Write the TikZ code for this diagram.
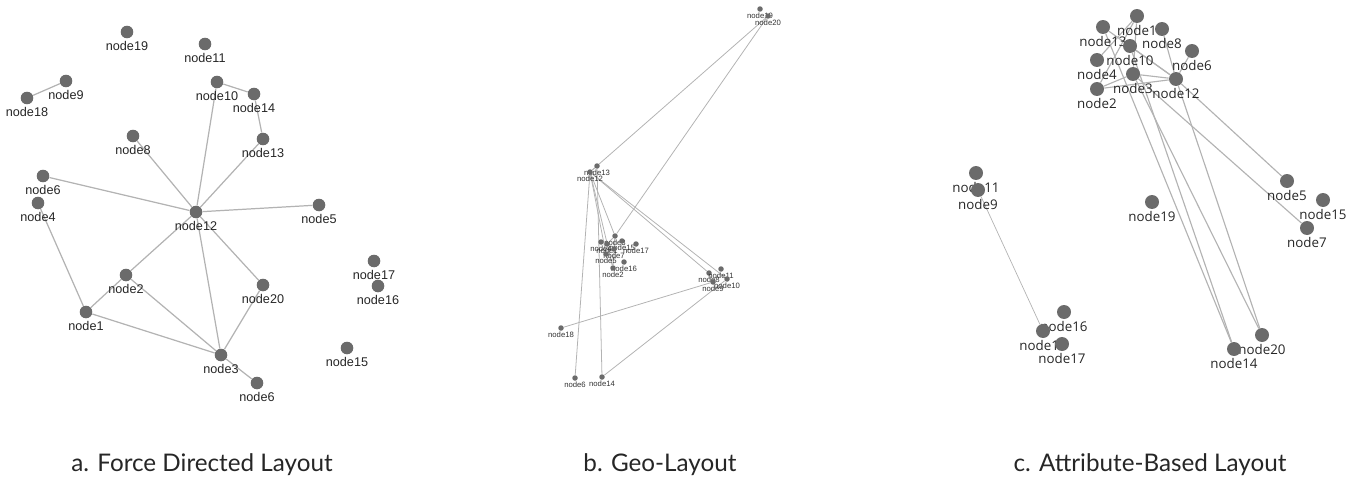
\documentclass[tikz,border=0pt]{standalone}
\usepackage{fontspec}
\newfontfamily\helv{Liberation Sans}
\newfontfamily\opsans{Open Sans}
\newfontfamily\lato{Lato}
\definecolor{dotgray}{HTML}{6B6B6B}
\definecolor{edgegray}{HTML}{B3B3B3}
\pgfdeclarelayer{bg}
\pgfsetlayers{bg,main}

\begin{document}
\begin{tikzpicture}[x=0.02cm,y=-0.02cm,
 dotA/.style={circle,fill=dotgray,inner sep=0pt,minimum size=0.252cm,
  label={[font=\helv\fontsize{7.2}{8}\selectfont,inner sep=0pt,label distance=0.04cm,text=black!85]below:#1}},
 dotB/.style={circle,fill=dotgray,inner sep=0pt,minimum size=0.11cm,
  label={[font=\helv\fontsize{4.4}{5}\selectfont,inner sep=0pt,label distance=0.01cm,text=black!80]below:#1}},
 dotC/.style={circle,fill=dotgray,inner sep=0pt,minimum size=0.28cm,
  label={[font=\opsans\fontsize{7.6}{8}\selectfont,inner sep=0pt,label distance=0.04cm,text=black!85]below:#1}},
 edgeA/.style={draw=edgegray,line width=0.7pt},
 edgeB/.style={draw=edgegray,line width=0.45pt},
 edgeC/.style={draw=edgegray,line width=0.65pt},
 caption/.style={font=\lato\fontsize{13.8}{16}\selectfont,text=black!85,anchor=base,inner sep=0pt}]
 \useasboundingbox (0,0) rectangle (1360,480);

 % a. Force Directed Layout
 \node[dotA=node19] (A19) at (127,32) {};
 \node[dotA=node11] (A11) at (205,44) {};
 \node[dotA=node10] (A10) at (217,82) {};
 \node[dotA=node14] (A14) at (254,94) {};
 \node[dotA=node9] (A9) at (66,81) {};
 \node[dotA=node18] (A18) at (27,98) {};
 \node[dotA=node8] (A8) at (133,136) {};
 \node[dotA=node13] (A13) at (263,139) {};
 \node[dotA=node6] (A6) at (43,176) {};
 \node[dotA=node4] (A4) at (38,203) {};
 \node[dotA=node12] (A12) at (196,212) {};
 \node[dotA=node5] (A5) at (319,205) {};
 \node[dotA=node17] (A17) at (374,261) {};
 \node[dotA=node16] (A16) at (378,286) {};
 \node[dotA=node2] (A2) at (126,275) {};
 \node[dotA=node20] (A20) at (263,285) {};
 \node[dotA=node1] (A1) at (86,312) {};
 \node[dotA=node3] (A3) at (221,355) {};
 \node[dotA=node15] (A15) at (347,348) {};
 \node[dotA=node6] (A7) at (257,383) {}; % 下のnode6
 \begin{pgfonlayer}{bg}
 \draw[edgeA] (A9)--(A18);
 \draw[edgeA] (A10)--(A14)--(A13);
 \draw[edgeA] (A10)--(A12);
 \draw[edgeA] (A13)--(A12);
 \draw[edgeA] (A8)--(A12);
 \draw[edgeA] (A6)--(A12);
 \draw[edgeA] (A5)--(A12);
 \draw[edgeA] (A12)--(A2);
 \draw[edgeA] (A12)--(A3);
 \draw[edgeA] (A12)--(A20);
 \draw[edgeA] (A4)--(A1);
 \draw[edgeA] (A1)--(A2);
 \draw[edgeA] (A1)--(A3);
 \draw[edgeA] (A2)--(A3);
 \draw[edgeA] (A20)--(A3);
 \draw[edgeA] (A3)--(A7);
 \end{pgfonlayer}

 % b. Geo-Layout
 \node[dotB=node19] (B19) at (760,9) {};
 \node[dotB=node20] (B20) at (768,16) {};
 \node[dotB=node13] (B13) at (597,166) {};
 \node[dotB=node12] (B12) at (590,172) {};
 \node[dotB=node3] (B3) at (615,236) {}; % 左の塊
 \node[dotB=node4] (B4) at (601,242) {};
 \node[dotB=node1] (B1) at (607,244) {};
 \node[dotB=node15] (B15) at (622,241) {};
 \node[dotB=node17] (B17) at (636,244) {};
 \node[dotB=node7] (B7) at (614,249) {};
 \node[dotB=node5] (B5) at (606,254) {};
 \node[dotB=node16] (B16) at (624,262) {};
 \node[dotB=node2] (B2) at (613,268) {};
 \node[dotB=node8] (B8) at (709,273) {}; % 右の塊
 \node[dotB=node11] (B11) at (721,269) {};
 \node[dotB=node10] (B10) at (727,279) {};
 \node[dotB=node9] (B9) at (713,282) {};
 \node[dotB=node18] (B18) at (561,328) {};
 \node[dotB=node6] (B6) at (575,378) {};
 \node[dotB=node14] (B14) at (602,377) {};
 \begin{pgfonlayer}{bg}
 \draw[edgeB] (B12)--(B10);
 \draw[edgeB] (B12)--(B13);
 \draw[edgeB] (B12)--(B8);
 \draw[edgeB] (B12)--(B6);
 \draw[edgeB] (B12)--(B5);
 \draw[edgeB] (B12)--(B2);
 \draw[edgeB] (B12)--(B3);
 \draw[edgeB] (B12)--(B20);
 \draw[edgeB] (B13)--(B14);
 \draw[edgeB] (B10)--(B14);
 \draw[edgeB] (B9)--(B18);
 \draw[edgeB] (B4)--(B1);
 \draw[edgeB] (B1)--(B2);
 \draw[edgeB] (B1)--(B3);
 \draw[edgeB] (B2)--(B3);
 \draw[edgeB] (B20)--(B3);
 \draw[edgeB] (B3)--(B7);
 \end{pgfonlayer}

 % c. Attribute-Based Layout
 \node[dotC=node1] (C1) at (1137,16) {};
 \node[dotC=node13] (C13) at (1103,27) {};
 \node[dotC=node8] (C8) at (1162,29) {};
 \node[dotC=node10] (C10) at (1130,46) {};
 \node[dotC=node6] (C6) at (1192,51) {};
 \node[dotC=node4] (C4) at (1097,60) {};
 \node[dotC=node3] (C3) at (1133,74) {};
 \node[dotC=node12] (C12) at (1176,79) {};
 \node[dotC=node2] (C2) at (1097,89) {};
 \node[dotC=node11] (C11) at (976,173) {};
 \node[dotC=node9] (C9) at (978,190) {};
 \node[dotC=node19] (C19) at (1152,202) {};
 \node[dotC=node5] (C5) at (1287,181) {};
 \node[dotC=node15] (C15) at (1323,200) {};
 \node[dotC=node7] (C7) at (1307,228) {};
 \node[dotC=node16] (C16) at (1064,312) {};
 \node[dotC=node18] (C18) at (1043,331) {};
 \node[dotC=node17] (C17) at (1062,344) {};
 \node[dotC=node20] (C20) at (1262,335) {};
 \node[dotC=node14] (C14) at (1234,349) {};
 \begin{pgfonlayer}{bg}
 \draw[edgeC] (C12)--(C10);
 \draw[edgeC] (C12)--(C13);
 \draw[edgeC] (C12)--(C8);
 \draw[edgeC] (C12)--(C6);
 \draw[edgeC] (C12)--(C5);
 \draw[edgeC] (C12)--(C2);
 \draw[edgeC] (C12)--(C3);
 \draw[edgeC] (C12)--(C20);
 \draw[edgeC] (C13)--(C14);
 \draw[edgeC] (C10)--(C14);
 \draw[edgeC,line width=0.4pt] (C9)--(C18);
 \draw[edgeC] (C4)--(C1);
 \draw[edgeC] (C1)--(C2);
 \draw[edgeC] (C1)--(C3);
 \draw[edgeC] (C2)--(C3);
 \draw[edgeC] (C20)--(C3);
 \draw[edgeC] (C3)--(C7);
 \end{pgfonlayer}

 % 見出し
 \node[caption] (capA) at (202,471) {a. Force Directed Layout};
 \node[caption] (capB) at (660,471) {b. Geo-Layout};
 \node[caption] (capC) at (1150,471) {c. Attribute-Based Layout};
\end{tikzpicture}
\end{document}
